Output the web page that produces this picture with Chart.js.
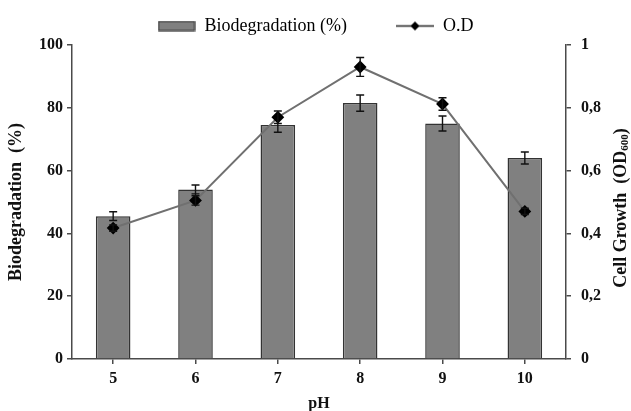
<!DOCTYPE html>
<html lang="en">
  <head>
    <meta charset="UTF-8" />
    <title>Biodegradation vs pH</title>
    <script src="https://cdn.jsdelivr.net/npm/chart.js@4.4.1/dist/chart.umd.min.js"></script>
    <style>
      body {
        margin: 0;
        background-color: white;
      }
    </style>
  </head>

  <body>
    <canvas id="myChart" width="631" height="411"></canvas>

    <script>
      // values
      const phLabels = ["5", "6", "7", "8", "9", "10"];
      const biodegradation = [45.5, 54, 74.5, 81.5, 75, 64];
      const biodegradationErr = [1.4, 1.4, 2.3, 2.6, 2.4, 1.9];
      const od = [0.417, 0.505, 0.77, 0.93, 0.812, 0.47];
      const odErr = [0.01, 0.015, 0.02, 0.03, 0.02, 0.01];
      const leftTicks = [0, 20, 40, 60, 80, 100];
      const rightTicks = [0, 0.2, 0.4, 0.6, 0.8, 1];

      const serif = "'Liberation Serif', 'Times New Roman', serif";
      const axisColor = "#4a4a4a";

      // little pictures for the legend
      function barIcon() {
        const c = document.createElement("canvas");
        c.width = 38;
        c.height = 11;
        const g = c.getContext("2d");
        g.fillStyle = "#808080";
        g.fillRect(1, 1, 36, 9);
        g.strokeStyle = "#333";
        g.lineWidth = 1.2;
        g.strokeRect(1, 1, 36, 9);
        return c;
      }
      function lineIcon() {
        const c = document.createElement("canvas");
        c.width = 38;
        c.height = 11;
        const g = c.getContext("2d");
        g.strokeStyle = "#222";
        g.lineWidth = 1.5;
        g.beginPath();
        g.moveTo(0, 5.5);
        g.lineTo(38, 5.5);
        g.stroke();
        g.fillStyle = "#000";
        g.beginPath();
        g.moveTo(19, 1);
        g.lineTo(23.5, 5.5);
        g.lineTo(19, 10);
        g.lineTo(14.5, 5.5);
        g.closePath();
        g.fill();
        return c;
      }

      const errorBars = {
        id: "errorBars",
        afterDatasetDraw(chart, args) {
          const errs = chart.data.datasets[args.index].errors;
          if (!errs) return;
          const ctx = chart.ctx;
          const scale = chart.scales[args.meta.yAxisID];
          const vals = chart.data.datasets[args.index].data;
          ctx.save();
          ctx.strokeStyle = "#111";
          ctx.lineWidth = 1.4;
          args.meta.data.forEach((el, i) => {
            const x = el.x;
            const top = scale.getPixelForValue(vals[i] + errs[i]);
            const bot = scale.getPixelForValue(vals[i] - errs[i]);
            ctx.beginPath();
            ctx.moveTo(x, top);
            ctx.lineTo(x, bot);
            ctx.moveTo(x - 4, top);
            ctx.lineTo(x + 4, top);
            ctx.moveTo(x - 4, bot);
            ctx.lineTo(x + 4, bot);
            ctx.stroke();
          });
          ctx.restore();
        },
      };

      // right axis title reads bottom-to-top in the figure, with a subscript
      const rightTitle = {
        id: "rightTitle",
        afterDraw(chart) {
          const ctx = chart.ctx;
          const area = chart.chartArea;
          const main = "Cell Growth  (OD";
          const sub = "600";
          const end = ")";
          ctx.save();
          ctx.fillStyle = "#111";
          ctx.textBaseline = "middle";
          ctx.font = "bold 18px " + serif;
          const w1 = ctx.measureText(main).width;
          const w3 = ctx.measureText(end).width;
          ctx.font = "bold 11px " + serif;
          const w2 = ctx.measureText(sub).width;
          const total = w1 + w2 + w3;
          const cy = (area.top + area.bottom) / 2 + 6;
          ctx.translate(chart.width - 10, cy);
          ctx.rotate(-Math.PI / 2);
          let x = -total / 2;
          ctx.font = "bold 18px " + serif;
          ctx.fillText(main, x, 0);
          x += w1;
          ctx.font = "bold 11px " + serif;
          ctx.fillText(sub, x, 4);
          x += w2;
          ctx.font = "bold 18px " + serif;
          ctx.fillText(end, x, 0);
          ctx.restore();
        },
      };

      const ctx = document.getElementById("myChart").getContext("2d");
      const myChart = new Chart(ctx, {
        type: "bar",
        data: {
          labels: phLabels,
          datasets: [
            {
              type: "line",
              label: "O.D",
              data: od,
              errors: odErr,
              yAxisID: "y1",
              borderColor: "#707070",
              borderWidth: 2,
              pointStyle: "rectRot",
              pointRadius: 5,
              pointBackgroundColor: "#000",
              pointBorderColor: "#000",
              tension: 0,
            },
            {
              label: "Biodegradation (%)",
              data: biodegradation,
              errors: biodegradationErr,
              yAxisID: "y",
              backgroundColor: "#808080",
              borderColor: "#333",
              borderWidth: 1.5,
              barPercentage: 0.42,
              categoryPercentage: 1,
            },
          ],
        },
        plugins: [errorBars, rightTitle],
        options: {
          responsive: false,
          animation: false,
          layout: { padding: { top: 4 } },
          scales: {
            x: {
              grid: {
                offset: false,
                drawOnChartArea: false,
                tickLength: 5,
                color: axisColor,
                lineWidth: 1.5,
              },
              border: { color: axisColor, width: 1.5 },
              ticks: {
                color: "#111",
                padding: 5,
                font: { family: serif, size: 16, weight: "bold" },
              },
              title: {
                display: true,
                text: "pH",
                color: "#111",
                padding: { top: 0, bottom: -2 },
                font: { family: serif, size: 16, weight: "bold" },
              },
              afterFit(s) {
                s.height = 52;
              },
            },
            y: {
              position: "left",
              min: 0,
              max: 100,
              afterBuildTicks(s) {
                s.ticks = leftTicks.map((v) => ({ value: v }));
              },
              grid: {
                drawOnChartArea: false,
                tickLength: 5,
                color: axisColor,
                lineWidth: 1.5,
              },
              border: { color: axisColor, width: 1.5 },
              ticks: {
                color: "#111",
                padding: 4,
                font: { family: serif, size: 16, weight: "bold" },
              },
              title: {
                display: true,
                text: "Biodegradation  (%)",
                color: "#111",
                padding: { top: 6, bottom: 0 },
                font: { family: serif, size: 18, weight: "bold" },
              },
              afterFit(s) {
                s.width = 72;
              },
            },
            y1: {
              position: "right",
              min: 0,
              max: 1,
              afterBuildTicks(s) {
                s.ticks = rightTicks.map((v) => ({ value: v }));
              },
              grid: {
                drawOnChartArea: false,
                tickLength: 5,
                color: axisColor,
                lineWidth: 1.5,
              },
              border: { color: axisColor, width: 1.5 },
              ticks: {
                color: "#111",
                padding: 10,
                font: { family: serif, size: 16, weight: "bold" },
                callback: (v) => (v === 0 || v === 1 ? String(v) : v.toFixed(1).replace(".", ",")),
              },
              afterFit(s) {
                s.width = 65;
              },
            },
          },
          plugins: {
            tooltip: { enabled: false },
            legend: {
              position: "top",
              labels: {
                usePointStyle: true,
                pointStyleWidth: 38,
                padding: 13,
                color: "#111",
                font: { family: serif, size: 18 },
                generateLabels() {
                  return [
                    { text: "Biodegradation (%)        ", pointStyle: barIcon(), datasetIndex: 1, lineWidth: 0 },
                    { text: "O.D", pointStyle: lineIcon(), datasetIndex: 0, lineWidth: 0 },
                  ];
                },
              },
            },
          },
        },
      });
    </script>
  </body>
</html>
